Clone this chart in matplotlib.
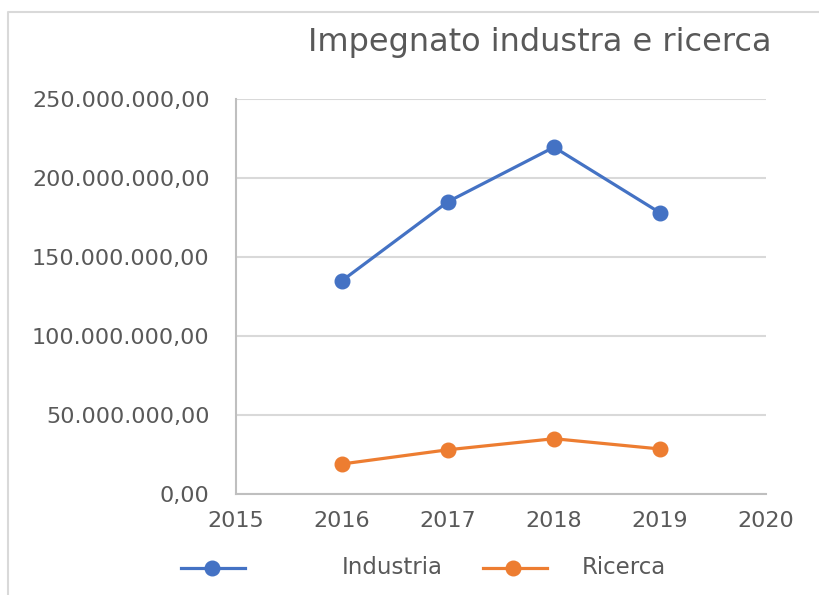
import matplotlib
matplotlib.use("Agg")
import matplotlib.pyplot as plt
from matplotlib.lines import Line2D
from matplotlib.ticker import FuncFormatter, MultipleLocator

years = [2016, 2017, 2018, 2019]
industria = [135_000_000, 185_000_000, 219_500_000, 178_000_000]
ricerca = [19_000_000, 28_000_000, 35_000_000, 28_500_000]
series_names = ["Industria", "Ricerca"]
title = "Impegnato industra e ricerca"

BLUE = "#4472C4"
ORANGE = "#ED7D31"
TEXT = "#595959"
GRID = "#D9D9D9"

plt.rcParams['font.family'] = ['DejaVu Sans']

W, H = 820, 595
fig = plt.figure(figsize=(W / 100, H / 100), dpi=100)
ax = fig.add_axes([236 / W, 1 - 494 / H, (766 - 236) / W, (494 - 99) / H])

ax.plot(years, industria, color=BLUE, lw=2.3, marker='o', ms=10.5,
        solid_capstyle='round', zorder=3)
ax.plot(years, ricerca, color=ORANGE, lw=2.3, marker='o', ms=10.5,
        solid_capstyle='round', zorder=3)

ax.set_xlim(2015, 2020)
ax.set_ylim(0, 250_000_000)
ax.yaxis.set_major_locator(MultipleLocator(50_000_000))
ax.xaxis.set_major_locator(MultipleLocator(1))


def it_fmt(v, pos):
    s = f"{v:,.2f}"
    return s.replace(",", "X").replace(".", ",").replace("X", ".")


ax.yaxis.set_major_formatter(FuncFormatter(it_fmt))
ax.xaxis.set_major_formatter(FuncFormatter(lambda v, p: f"{int(round(v))}"))

ax.grid(axis='y', color=GRID, lw=1.5)
ax.set_axisbelow(True)
for s in ['top', 'right']:
    ax.spines[s].set_visible(False)
ax.spines['left'].set_color("#BFBFBF")
ax.spines['left'].set_linewidth(1.5)
ax.spines['bottom'].set_color("#BFBFBF")
ax.spines['bottom'].set_linewidth(1.5)
ax.tick_params(axis='both', length=0, colors=TEXT, labelsize=16)
ax.tick_params(axis='y', pad=19)
ax.tick_params(axis='x', pad=12)

fig.text(308 / W, 1 - 51 / H, title, ha='left', va='baseline',
         fontsize=23, color=TEXT)

# legend
ly = 1 - 568 / H
for (x0, x1, xm, tx, c, name) in [(181, 245, 212, 342, BLUE, series_names[0]),
                                  (483, 547, 513, 582, ORANGE, series_names[1])]:
    fig.add_artist(Line2D([x0 / W, x1 / W], [ly, ly], color=c, lw=2.3,
                          transform=fig.transFigure))
    fig.add_artist(Line2D([xm / W], [ly], color=c, marker='o', ms=10.5,
                          transform=fig.transFigure))
    fig.text(tx / W, ly, name, ha='left', va='center', fontsize=16.5, color=TEXT)

# chart border
fig.add_artist(Line2D([8 / W, 8 / W, 1.0], [0, 1 - 12 / H, 1 - 12 / H],
                      color=GRID, lw=1.5, transform=fig.transFigure))

fig.savefig("out.png", dpi=100)
